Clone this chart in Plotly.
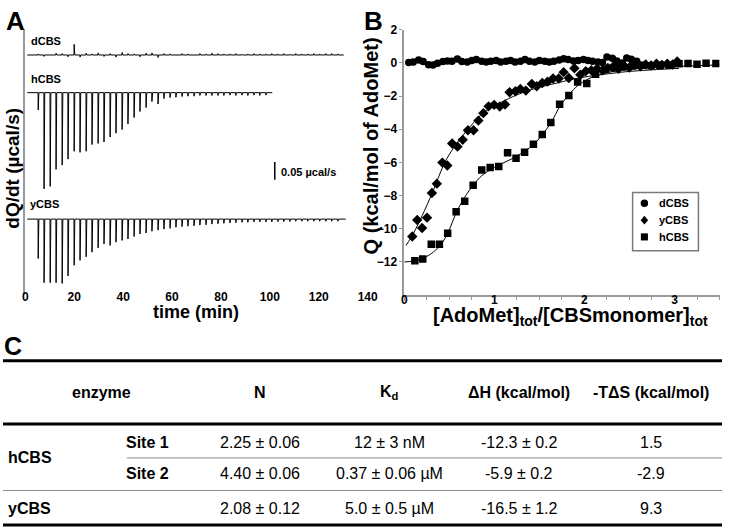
import plotly.graph_objects as go

W, H = 732, 528


def px(x):
    return x / W


def py(y):
    return 1 - y / H


# ---------------- Panel A: thermograms (µcal/s) ----------------
injection_times = [5.2, 7.6, 10.1, 12.5, 15.0, 17.4, 19.9, 22.3, 24.8, 27.2, 29.7, 32.1, 34.6,
                   37.0, 39.5, 41.9, 44.4, 46.8, 49.3, 51.7, 54.2, 56.6, 59.1, 61.5, 64.0, 66.4,
                   68.9, 71.3, 73.8, 76.2, 78.7, 81.1, 83.6, 86.0, 88.5, 90.9, 93.4, 95.8, 98.3,
                   100.7, 103.2, 105.6, 108.1, 110.5, 113.0, 115.4, 117.9, 120.3, 122.8, 125.2, 127.7]

hcbs_heat = [-0.049, -0.271, -0.264, -0.216, -0.204, -0.187, -0.165, -0.168, -0.165, -0.146,
             -0.143, -0.139, -0.125, -0.114, -0.104, -0.088, -0.070, -0.053, -0.042, -0.025,
             -0.032, -0.017, -0.014, -0.013, -0.011, -0.010, -0.010, -0.008, -0.008, -0.008,
             -0.008, -0.008, -0.007, -0.008, -0.007, -0.008, -0.007, -0.008, -0.007]

ycbs_heat = [-0.111, -0.179, -0.179, -0.179, -0.181, -0.160, -0.130, -0.116, -0.106, -0.093,
             -0.081, -0.070, -0.074, -0.065, -0.060, -0.056, -0.049, -0.042, -0.039, -0.034,
             -0.031, -0.028, -0.026, -0.023, -0.021, -0.020, -0.019, -0.017, -0.016, -0.014,
             -0.013, -0.012, -0.011, -0.010, -0.009, -0.009, -0.008, -0.008, -0.008, -0.008,
             -0.007, -0.007, -0.007, -0.006, -0.006, -0.006, -0.006, -0.006, -0.006, -0.006,
             -0.006]

dcbs_heat = [0.003, -0.004, 0.002, 0.005, 0.004, -0.005, 0.030, -0.006, 0.005, 0.003,
             0.006, -0.004, 0.004, -0.006, 0.007, 0.004, 0.003, -0.005, 0.005, 0.006,
             -0.007, 0.004, 0.003, 0.002, 0.004, 0.003, 0.002, 0.004, 0.003, 0.005,
             0.004, 0.003, 0.003, 0.004, 0.002, 0.003, 0.004, 0.003, 0.003, 0.004,
             0.003, 0.004, 0.002, 0.004, 0.003, 0.003, 0.004, 0.003, 0.004, 0.004, 0.003]

trace_names = ["dCBS", "hCBS", "yCBS"]
trace_end_min = [130.2, 101.0, 131.0]
baseline_offset = [-0.074, -0.180, -0.536]   # vertical stacking of thermograms
scale_bar_value = 0.05
scale_bar_time = 102.0
scale_bar_top = -0.375

# ---------------- Panel B: binding isotherms ----------------
dcbs_x = [0.05, 0.10, 0.16, 0.21, 0.27, 0.32, 0.37, 0.43, 0.48, 0.53, 0.59, 0.64, 0.70, 0.75,
          0.80, 0.86, 0.91, 0.96, 1.02, 1.07, 1.13, 1.18, 1.23, 1.29, 1.34, 1.39, 1.45, 1.50,
          1.56, 1.61, 1.66, 1.72, 1.77, 1.82, 1.88, 1.93, 1.99, 2.04, 2.09, 2.15, 2.20, 2.25,
          2.31, 2.36, 2.42, 2.47, 2.52, 2.58]
dcbs_q = [0.02, 0.05, 0.18, 0.08, -0.12, -0.13, -0.02, 0.08, 0.12, 0.10, 0.24, 0.08, 0.05, 0.15,
          0.20, 0.10, 0.05, 0.10, 0.15, 0.05, 0.10, 0.15, 0.05, 0.10, 0.20, 0.10, 0.05, 0.15,
          0.10, 0.05, 0.10, 0.18, 0.25, 0.20, 0.12, 0.15, 0.20, 0.15, 0.10, 0.05, 0.02, 0.35,
          0.28, 0.12, 0.00, 0.30, 0.22, 0.10]

ycbs_x = [0.089, 0.144, 0.198, 0.253, 0.307, 0.362, 0.423, 0.478, 0.532, 0.591, 0.649, 0.707,
          0.769, 0.823, 0.878, 0.936, 0.998, 1.06, 1.118, 1.169, 1.234, 1.289, 1.35, 1.416,
          1.47, 1.532, 1.59, 1.652, 1.714, 1.769, 1.827, 1.889, 1.954, 2.015, 2.077, 2.14,
          2.20, 2.26, 2.32, 2.38, 2.44, 2.50, 2.56, 2.62, 2.68, 2.74, 2.80, 2.86, 2.92, 2.98, 3.03]
ycbs_q = [-10.47, -9.47, -9.95, -9.33, -7.84, -7.28, -6.01, -6.19, -4.86, -5.05, -4.64, -4.06,
          -4.06, -3.48, -3.03, -2.62, -2.53, -2.63, -2.51, -1.77, -1.71, -1.57, -1.67, -1.27,
          -1.41, -1.21, -1.13, -0.94, -0.94, -0.56, -0.91, -0.32, -0.72, -0.50, -0.44, -0.35,
          -0.45, -0.30, -0.22, -0.35, -0.18, -0.28, -0.12, -0.20, -0.10, -0.15, -0.05, -0.12,
          -0.05, -0.10, 0.08]

hcbs_x = [0.118, 0.205, 0.30, 0.39, 0.482, 0.576, 0.671, 0.765, 0.86, 0.954, 1.049, 1.147,
          1.241, 1.336, 1.434, 1.532, 1.627, 1.725, 1.827, 1.925, 2.026, 2.124, 2.233, 2.33,
          2.43, 2.535, 2.63, 2.74, 2.84, 2.94, 3.05, 3.15, 3.25, 3.35, 3.46]
hcbs_q = [-11.92, -11.82, -10.93, -10.93, -10.27, -8.98, -8.34, -7.38, -6.45, -6.31, -6.25,
          -5.41, -5.75, -5.39, -4.90, -4.32, -3.60, -2.50, -1.97, -1.15, -1.25, -0.68, -0.40,
          -0.30, -0.24, -0.18, -0.14, -0.18, -0.14, -0.14, -0.05, -0.04, -0.08, -0.02, -0.04]

ycbs_fit_x = [0.02, 0.10, 0.20, 0.31, 0.45, 0.55, 0.70, 0.86, 1.00, 1.20, 1.36, 1.55, 1.73,
              1.90, 2.09, 2.45, 2.75, 3.05]
ycbs_fit_q = [-11.0, -10.3, -9.2, -7.85, -6.0, -5.1, -4.05, -3.1, -2.6, -2.05, -1.7, -1.4,
              -1.17, -0.95, -0.78, -0.54, -0.42, -0.33]

hcbs_fit_x = [0.00, 0.10, 0.20, 0.30, 0.40, 0.48, 0.58, 0.67, 0.77, 0.86, 1.00, 1.24, 1.43,
              1.53, 1.63, 1.73, 1.83, 1.93, 2.05, 2.20, 2.40, 2.70, 3.00, 3.50]
hcbs_fit_q = [-12.0, -11.95, -11.8, -11.5, -11.0, -10.3, -9.0, -8.1, -7.35, -6.8, -6.3, -5.65,
              -4.95, -4.35, -3.6, -2.6, -1.9, -1.35, -0.95, -0.65, -0.45, -0.3, -0.22, -0.12]

legend_names = ["dCBS", "yCBS", "hCBS"]

# ---------------- Panel C: table ----------------
table_headers = ["enzyme", "N", "K<sub>d</sub>", "ΔH (kcal/mol)", "-TΔS (kcal/mol)"]
row_enzymes = ["hCBS", "yCBS"]
row_sites = ["Site 1", "Site 2", ""]
col_n = ["2.25 ± 0.06", "4.40 ± 0.06", "2.08 ± 0.12"]
col_kd = ["12 ± 3 nM", "0.37 ± 0.06 µM", "5.0 ± 0.5 µM"]
col_dh = ["-12.3 ± 0.2", "-5.9 ± 0.2", "-16.5 ± 1.2"]
col_tds = ["1.5", "-2.9", "9.3"]

# ---------------------------------------------------------------
BOLD = "Arial, Liberation Sans, sans-serif"
NARROW = "Liberation Sans Narrow, Arial Narrow, Liberation Sans, Arial, sans-serif"
AXIS_GREY = "#9a9a9a"

fig = go.Figure()

heats = {"dCBS": dcbs_heat, "hCBS": hcbs_heat, "yCBS": ycbs_heat}
for name, t_end, base in zip(trace_names, trace_end_min, baseline_offset):
    vals = heats[name]
    xs, ys = [0.8], [base]
    for t, q in zip(injection_times, vals):
        xs += [t, t + 0.08, t + 0.35]
        ys += [base, base + q, base]
    xs.append(t_end)
    ys.append(base)
    fig.add_trace(go.Scatter(x=xs, y=ys, mode="lines", xaxis="x", yaxis="y",
                             line=dict(color="black", width=1), showlegend=False,
                             hoverinfo="skip"))

# Panel B fits
fig.add_trace(go.Scatter(x=ycbs_fit_x, y=ycbs_fit_q, mode="lines", xaxis="x2", yaxis="y2",
                         line=dict(color="black", width=1, shape="spline", smoothing=0.8),
                         showlegend=False))
fig.add_trace(go.Scatter(x=hcbs_fit_x, y=hcbs_fit_q, mode="lines", xaxis="x2", yaxis="y2",
                         line=dict(color="black", width=1, shape="spline", smoothing=0.8),
                         showlegend=False))
# Panel B data
fig.add_trace(go.Scatter(x=dcbs_x, y=dcbs_q, mode="markers", name="dCBS", xaxis="x2", yaxis="y2",
                         marker=dict(symbol="circle", size=7.5, color="black"), showlegend=False))
fig.add_trace(go.Scatter(x=ycbs_x, y=ycbs_q, mode="markers", name="yCBS", xaxis="x2", yaxis="y2",
                         marker=dict(symbol="diamond", size=8, color="black"), showlegend=False))
fig.add_trace(go.Scatter(x=hcbs_x, y=hcbs_q, mode="markers", name="hCBS", xaxis="x2", yaxis="y2",
                         marker=dict(symbol="square", size=7.5, color="black"), showlegend=False))

annotations = []
shapes = []


def ann(text, x, y, size, xanchor="center", weight="bold", family=BOLD, angle=0, yanchor="middle"):
    annotations.append(dict(text=text, x=px(x), y=py(y), xref="paper", yref="paper",
                            showarrow=False, xanchor=xanchor, yanchor=yanchor, textangle=angle,
                            font=dict(family=family, size=size, color="black", weight=weight)))


# panel letters
ann("A", 1, 14, 26, xanchor="left")
ann("B", 365, 14, 26, xanchor="left")
ann("C", -1, 344, 25, xanchor="left", family=NARROW)

# panel A texts
ann("dCBS", 26, 34, 11, xanchor="left")
ann("hCBS", 26, 73, 11, xanchor="left")
ann("yCBS", 25, 200, 11, xanchor="left")
ann(f"{scale_bar_value:g} µcal/s", 281, 167, 11, xanchor="left")
ann("dQ/dt (µcal/s)", 10, 163, 19, angle=-90)
ann("time (min)", 196, 309, 18)

# panel B texts
ann("Q (kcal/mol of AdoMet)", 375, 141, 20, angle=-90)
ann("[AdoMet]<sub>tot</sub>/[CBSmonomer]<sub>tot</sub>", 578, 314, 20)

# legend of panel B (box, symbols, labels)
shapes.append(dict(type="rect", xref="paper", yref="paper", x0=px(641), x1=px(708),
                   y0=py(247), y1=py(188), line=dict(color="#7a7a7a", width=1.5),
                   fillcolor="white", layer="above"))
leg_y = [199, 216, 233]
cx = 653
r = 3.8
shapes.append(dict(type="circle", xref="paper", yref="paper", x0=px(cx - r), x1=px(cx + r),
                   y0=py(leg_y[0] + r), y1=py(leg_y[0] - r), fillcolor="black",
                   line=dict(width=0), layer="above"))
d = 4.5
yy = leg_y[1]
shapes.append(dict(type="path", xref="paper", yref="paper",
                   path=(f"M {px(cx)} {py(yy - d)} L {px(cx + 3.8)} {py(yy)} "
                         f"L {px(cx)} {py(yy + d)} L {px(cx - 3.8)} {py(yy)} Z"),
                   fillcolor="black", line=dict(width=0), layer="above"))
s = 3.6
shapes.append(dict(type="rect", xref="paper", yref="paper", x0=px(cx - s), x1=px(cx + s),
                   y0=py(leg_y[2] + s), y1=py(leg_y[2] - s), fillcolor="black",
                   line=dict(width=0), layer="above"))
for nm, ly in zip(legend_names, leg_y):
    ann(nm, 666, ly, 11, xanchor="left")

# scale bar
shapes.append(dict(type="line", xref="x", yref="y", x0=scale_bar_time, x1=scale_bar_time,
                   y0=scale_bar_top, y1=scale_bar_top - scale_bar_value,
                   line=dict(color="black", width=1.5)))

# table
col_x = [100, 262, 393, 525, 660]
TS = 16
for txt, cxx in zip(table_headers, col_x):
    ann(txt, cxx, 391, TS, family=NARROW)
row_y = [441, 473, 508]
ann(row_enzymes[0], 3, 457, TS, xanchor="left", family=NARROW)
ann(row_enzymes[1], 3, row_y[2], TS, xanchor="left", family=NARROW)
for s_, ry in zip(row_sites, row_y):
    if s_:
        ann(s_, 147, ry, TS, family=NARROW)
for col, cxx in zip([col_n, col_kd, col_dh, col_tds], col_x[1:]):
    for v, ry in zip(col, row_y):
        ann(v, cxx, ry, TS, weight="normal", family=NARROW)

for (x0, yl, w, c) in [(0, 358.5, 3, "black"), (0, 422.5, 3, "black"), (126, 457, 1, "#8a8a8a"),
                       (0, 490, 1, "#8a8a8a"), (0, 525, 3, "black")]:
    shapes.append(dict(type="line", xref="paper", yref="paper", x0=px(x0), x1=1,
                       y0=py(yl), y1=py(yl), line=dict(color=c, width=w)))

fig.update_layout(
    width=W, height=H,
    margin=dict(l=0, r=0, t=0, b=0),
    paper_bgcolor="white", plot_bgcolor="white",
    showlegend=False,
    annotations=annotations,
    shapes=shapes,
    xaxis=dict(domain=[px(22.7), px(371.3)], range=[0, 140], anchor="y",
               showline=False, showgrid=False, zeroline=False, ticks="",
               tickvals=[0, 20, 40, 60, 80, 100, 120, 140], ticklabelstandoff=-7,
               tickfont=dict(family=BOLD, size=12, color="black", weight="bold")),
    yaxis=dict(domain=[py(292), py(22)], range=[-0.75, 0], anchor="x",
               showline=True, linecolor=AXIS_GREY, linewidth=1.5, showgrid=False,
               zeroline=False, showticklabels=False, ticks=""),
    xaxis2=dict(domain=[px(408.5), px(729.5)], range=[0, 3.5], anchor="y2",
                showline=True, linecolor=AXIS_GREY, linewidth=1.5, showgrid=False,
                zeroline=False, ticks="outside", ticklen=4, tickcolor=AXIS_GREY,
                tickvals=[0, 1, 2, 3], ticklabelstandoff=-11,
                minor=dict(dtick=0.25, ticks="outside", ticklen=3, tickcolor=AXIS_GREY),
                tickfont=dict(family=BOLD, size=12, color="black", weight="bold")),
    yaxis2=dict(domain=[py(292), py(23)], range=[-14, 2], anchor="x2",
                showline=True, linecolor=AXIS_GREY, linewidth=1.5, showgrid=False,
                zeroline=False, ticks="outside", ticklen=3, tickcolor=AXIS_GREY,
                tickvals=[-12, -10, -8, -6, -4, -2, 0, 2],
                tickfont=dict(family=BOLD, size=12, color="black", weight="bold")),
)

fig.write_html("out.html", config={"displayModeBar": False},
               post_script="document.body.style.margin='0';document.body.style.padding='0';"
                           "document.documentElement.style.overflow='hidden';")
